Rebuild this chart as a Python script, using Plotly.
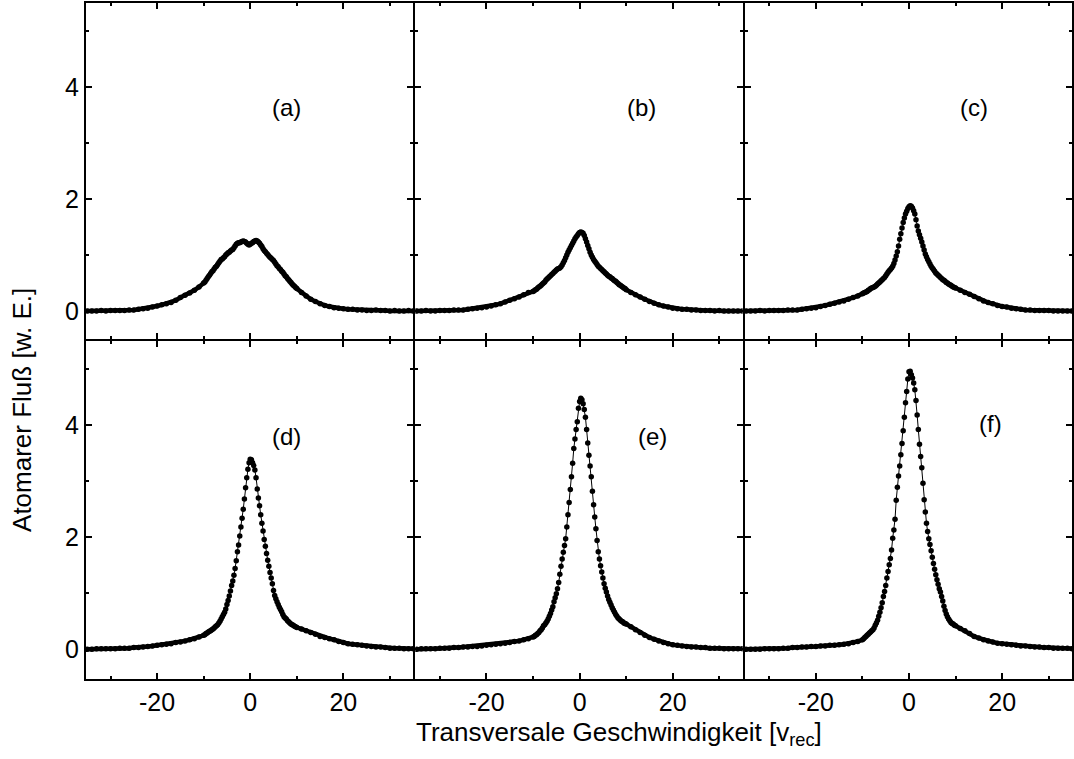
import plotly.graph_objects as go

# Transverse velocity grid [v_rec]: coarse in the wings, fine around the peak
VEL_WING_LEFT = [-35, -34, -33, -32, -31, -30, -29, -28, -27, -26, -25, -24, -23,
                 -22, -21, -20, -19, -18, -17, -16, -15, -14, -13, -12, -11]
VEL_CORE = [
    -10.0, -9.75, -9.5, -9.25, -9.0, -8.75, -8.5, -8.25,
    -8.0, -7.75, -7.5, -7.25, -7.0, -6.75, -6.5, -6.25,
    -6.0, -5.75, -5.5, -5.25, -5.0, -4.75, -4.5, -4.25,
    -4.0, -3.75, -3.5, -3.25, -3.0, -2.75, -2.5, -2.25,
    -2.0, -1.75, -1.5, -1.25, -1.0, -0.75, -0.5, -0.25,
    0.0, 0.25, 0.5, 0.75, 1.0, 1.25, 1.5, 1.75,
    2.0, 2.25, 2.5, 2.75, 3.0, 3.25, 3.5, 3.75,
    4.0, 4.25, 4.5, 4.75, 5.0, 5.25, 5.5, 5.75,
    6.0, 6.25, 6.5, 6.75, 7.0, 7.25, 7.5, 7.75,
    8.0, 8.25, 8.5, 8.75, 9.0, 9.25, 9.5, 9.75,
    10.0,
]
VEL_WING_RIGHT = [11, 12, 13, 14, 15, 16, 17, 18, 19, 20, 21, 22, 23,
                  24, 25, 26, 27, 28, 29, 30, 31, 32, 33, 34, 35]
VELOCITY = VEL_WING_LEFT + VEL_CORE + VEL_WING_RIGHT

# Atomic flux [arb. units] for the six measurements (a)-(f)
FLUX_A = [
    0.00, 0.00, 0.00, 0.01, 0.00, 0.01, 0.01, 0.01, 0.01, 0.02, 0.02, 0.03, 0.04,
    0.05, 0.07, 0.09, 0.11, 0.13, 0.15, 0.19, 0.24, 0.28, 0.32, 0.37, 0.43,
    0.50, 0.52, 0.55, 0.58, 0.61, 0.64, 0.67, 0.70,
    0.72, 0.75, 0.78, 0.80, 0.83, 0.86, 0.89, 0.92,
    0.93, 0.95, 0.97, 1.00, 1.02, 1.04, 1.05, 1.07,
    1.09, 1.10, 1.13, 1.16, 1.19, 1.21, 1.22, 1.22,
    1.23, 1.24, 1.25, 1.24, 1.23, 1.21, 1.19, 1.18,
    1.19, 1.21, 1.22, 1.24, 1.25, 1.26, 1.25, 1.23,
    1.21, 1.18, 1.15, 1.11, 1.08, 1.06, 1.03, 1.01,
    0.98, 0.96, 0.94, 0.92, 0.90, 0.87, 0.84, 0.81,
    0.79, 0.76, 0.74, 0.71, 0.69, 0.66, 0.63, 0.61,
    0.58, 0.56, 0.53, 0.51, 0.48, 0.46, 0.44, 0.42,
    0.40,
    0.33, 0.27, 0.21, 0.17, 0.13, 0.10, 0.08, 0.06, 0.05, 0.04, 0.03, 0.03, 0.02,
    0.02, 0.01, 0.01, 0.02, 0.01, 0.01, 0.00, 0.01, 0.00, 0.00, 0.01, 0.00,
]
FLUX_B = [
    0.00, 0.00, 0.01, 0.00, 0.00, 0.01, 0.01, 0.01, 0.02, 0.02, 0.02, 0.03, 0.04,
    0.05, 0.06, 0.07, 0.09, 0.11, 0.13, 0.16, 0.19, 0.22, 0.25, 0.29, 0.33,
    0.35, 0.36, 0.38, 0.39, 0.41, 0.43, 0.44, 0.46,
    0.48, 0.50, 0.52, 0.55, 0.57, 0.59, 0.61, 0.63,
    0.65, 0.67, 0.69, 0.71, 0.73, 0.75, 0.76, 0.77,
    0.79, 0.82, 0.86, 0.90, 0.95, 1.00, 1.05, 1.09,
    1.13, 1.17, 1.21, 1.25, 1.29, 1.32, 1.35, 1.38,
    1.40, 1.41, 1.40, 1.39, 1.35, 1.29, 1.23, 1.17,
    1.11, 1.05, 1.00, 0.96, 0.92, 0.89, 0.86, 0.83,
    0.80, 0.78, 0.76, 0.74, 0.72, 0.70, 0.68, 0.66,
    0.64, 0.62, 0.61, 0.59, 0.58, 0.56, 0.54, 0.53,
    0.51, 0.49, 0.47, 0.46, 0.44, 0.43, 0.41, 0.40,
    0.38,
    0.33, 0.29, 0.25, 0.21, 0.17, 0.14, 0.11, 0.09, 0.07, 0.05, 0.04, 0.03, 0.03,
    0.02, 0.02, 0.01, 0.01, 0.01, 0.00, 0.01, 0.00, 0.00, 0.00, 0.00, 0.00,
]
FLUX_C = [
    0.00, 0.00, 0.00, 0.01, 0.00, 0.01, 0.01, 0.01, 0.01, 0.02, 0.02, 0.02, 0.03,
    0.04, 0.05, 0.06, 0.08, 0.10, 0.12, 0.14, 0.16, 0.18, 0.21, 0.24, 0.27,
    0.31, 0.32, 0.33, 0.34, 0.35, 0.37, 0.38, 0.40,
    0.41, 0.42, 0.43, 0.44, 0.46, 0.48, 0.50, 0.52,
    0.54, 0.56, 0.58, 0.60, 0.63, 0.66, 0.69, 0.72,
    0.74, 0.77, 0.80, 0.85, 0.91, 0.98, 1.06, 1.16,
    1.28, 1.38, 1.48, 1.58, 1.66, 1.73, 1.78, 1.83,
    1.86, 1.88, 1.87, 1.84, 1.79, 1.73, 1.63, 1.52,
    1.43, 1.36, 1.30, 1.23, 1.16, 1.09, 1.02, 0.97,
    0.92, 0.88, 0.84, 0.80, 0.77, 0.74, 0.71, 0.68,
    0.66, 0.64, 0.62, 0.60, 0.58, 0.56, 0.55, 0.53,
    0.51, 0.50, 0.48, 0.47, 0.46, 0.44, 0.43, 0.42,
    0.41,
    0.37, 0.33, 0.30, 0.26, 0.22, 0.18, 0.15, 0.13, 0.10, 0.08, 0.07, 0.05, 0.04,
    0.03, 0.02, 0.02, 0.01, 0.01, 0.01, 0.01, 0.00, 0.00, 0.00, 0.00, 0.00,
]
FLUX_D = [
    0.00, 0.00, 0.01, 0.01, 0.01, 0.01, 0.01, 0.02, 0.02, 0.02, 0.03, 0.03, 0.04,
    0.05, 0.06, 0.07, 0.08, 0.09, 0.10, 0.12, 0.13, 0.15, 0.17, 0.19, 0.22,
    0.25, 0.26, 0.28, 0.29, 0.31, 0.32, 0.33, 0.35,
    0.36, 0.38, 0.40, 0.42, 0.44, 0.47, 0.50, 0.54,
    0.58, 0.62, 0.66, 0.72, 0.80, 0.87, 0.95, 1.04,
    1.14, 1.22, 1.32, 1.44, 1.58, 1.74, 1.86, 2.02,
    2.18, 2.34, 2.50, 2.68, 2.88, 3.06, 3.21, 3.33,
    3.39, 3.38, 3.33, 3.28, 3.20, 3.06, 2.86, 2.70,
    2.56, 2.40, 2.25, 2.11, 1.96, 1.84, 1.71, 1.59,
    1.48, 1.37, 1.27, 1.17, 1.05, 0.96, 0.90, 0.85,
    0.80, 0.75, 0.71, 0.67, 0.62, 0.58, 0.56, 0.54,
    0.51, 0.49, 0.47, 0.45, 0.44, 0.43, 0.41, 0.40,
    0.39,
    0.36, 0.33, 0.30, 0.27, 0.23, 0.21, 0.19, 0.17, 0.14, 0.12, 0.10, 0.09, 0.08,
    0.07, 0.06, 0.05, 0.04, 0.04, 0.03, 0.02, 0.02, 0.02, 0.01, 0.01, 0.01,
]
FLUX_E = [
    0.00, 0.01, 0.01, 0.01, 0.01, 0.02, 0.02, 0.02, 0.03, 0.03, 0.04, 0.04, 0.05,
    0.05, 0.06, 0.07, 0.08, 0.09, 0.10, 0.11, 0.12, 0.14, 0.15, 0.17, 0.19,
    0.22, 0.23, 0.25, 0.26, 0.28, 0.30, 0.33, 0.35,
    0.38, 0.42, 0.44, 0.47, 0.50, 0.54, 0.59, 0.64,
    0.70, 0.76, 0.85, 0.92, 0.99, 1.08, 1.19, 1.34,
    1.48, 1.61, 1.73, 1.85, 1.97, 2.18, 2.40, 2.62,
    2.85, 3.08, 3.32, 3.58, 3.75, 3.92, 4.06, 4.30,
    4.42, 4.48, 4.45, 4.38, 4.28, 4.14, 3.92, 3.68,
    3.46, 3.27, 3.08, 2.82, 2.58, 2.36, 2.15, 1.94,
    1.74, 1.61, 1.49, 1.38, 1.27, 1.17, 1.09, 1.02,
    0.95, 0.89, 0.84, 0.79, 0.74, 0.70, 0.66, 0.62,
    0.59, 0.56, 0.54, 0.52, 0.50, 0.49, 0.47, 0.46,
    0.45,
    0.40, 0.35, 0.30, 0.25, 0.21, 0.18, 0.15, 0.12, 0.10, 0.08, 0.07, 0.06, 0.05,
    0.04, 0.04, 0.03, 0.03, 0.02, 0.02, 0.02, 0.01, 0.01, 0.01, 0.01, 0.01,
]
FLUX_F = [
    0.00, 0.00, 0.00, 0.00, 0.01, 0.01, 0.01, 0.01, 0.02, 0.02, 0.03, 0.03, 0.04,
    0.04, 0.05, 0.05, 0.06, 0.06, 0.07, 0.07, 0.08, 0.09, 0.10, 0.12, 0.14,
    0.17, 0.19, 0.21, 0.23, 0.25, 0.27, 0.29, 0.31,
    0.33, 0.35, 0.38, 0.43, 0.47, 0.52, 0.59, 0.66,
    0.74, 0.83, 0.94, 1.03, 1.14, 1.27, 1.39, 1.51,
    1.62, 1.77, 1.98, 2.13, 2.32, 2.66, 2.89, 3.09,
    3.27, 3.47, 3.67, 3.90, 4.14, 4.40, 4.60, 4.82,
    4.95, 4.96, 4.90, 4.84, 4.75, 4.63, 4.44, 4.18,
    3.92, 3.66, 3.44, 3.24, 2.96, 2.67, 2.45, 2.25,
    2.10, 1.97, 1.87, 1.76, 1.64, 1.53, 1.43, 1.33,
    1.24, 1.16, 1.08, 1.02, 0.94, 0.86, 0.77, 0.69,
    0.63, 0.58, 0.54, 0.51, 0.48, 0.46, 0.45, 0.43,
    0.42,
    0.37, 0.33, 0.28, 0.23, 0.20, 0.17, 0.15, 0.13, 0.11, 0.10, 0.09, 0.08, 0.07,
    0.06, 0.06, 0.05, 0.04, 0.04, 0.03, 0.03, 0.02, 0.02, 0.02, 0.02, 0.01,
]

PANEL_NAMES = ["(a)", "(b)", "(c)", "(d)", "(e)", "(f)"]
PANEL_FLUX = [FLUX_A, FLUX_B, FLUX_C, FLUX_D, FLUX_E, FLUX_F]

X_TICKS = [-20, 0, 20]
X_TICK_TEXT = ["-20", "0", "20"]
Y_TICKS = [0, 2, 4]
Y_TICK_TEXT = ["0", "2", "4"]

X_TITLE = "Transversale Geschwindigkeit [v<sub>rec</sub>]"
Y_TITLE = "Atomarer Fluß [w. E.]"

for series in PANEL_FLUX:
    assert len(series) == len(VELOCITY)

FONT = "Liberation Sans, Arial, Helvetica, sans-serif"
W, H = 1074, 759
LINE_W = 2

# panel frames in pixels; neighbouring frames leave a gap equal to the frame
# line width so that shared borders are drawn on top of each other
col_px = [(86, 414), (416, 744), (746, 1074)]
row_px = [(3, 339), (341, 679)]          # measured from the top edge
y_ranges = [[-0.5, 5.5], [-0.53, 5.5]]

# where each panel letter sits, in that panel's data coordinates
label_anchor = [(7.7, 3.64), (13.2, 3.64), (14.0, 3.64),
                (7.7, 3.80), (15.7, 3.80), (17.4, 4.02)]

n_wing = len(VEL_WING_LEFT) + 1

fig = go.Figure()
layout = {}
for i, (name, flux) in enumerate(zip(PANEL_NAMES, PANEL_FLUX)):
    r, c = divmod(i, 3)
    sfx = "" if i == 0 else str(i + 1)
    xa, ya = "x" + sfx, "y" + sfx

    # dense wings: measured points merge into a solid band
    for xs, ys in ((VELOCITY[:n_wing], flux[:n_wing]),
                   (VELOCITY[-n_wing:], flux[-n_wing:])):
        fig.add_trace(go.Scatter(
            x=xs, y=ys, mode="lines", xaxis=xa, yaxis=ya,
            line=dict(color="black", width=4.5), showlegend=False, hoverinfo="skip",
        ))
    fig.add_trace(go.Scatter(
        x=VELOCITY, y=flux, mode="lines+markers", xaxis=xa, yaxis=ya,
        line=dict(color="black", width=1),
        marker=dict(color="black", size=5.5, line=dict(width=0)),
        showlegend=False, name=name,
    ))

    x0, x1 = col_px[c]
    t0, t1 = row_px[r]
    common = dict(
        ticks="inside", ticklen=6, tickwidth=1.5, tickcolor="black",
        showline=True, linewidth=LINE_W, linecolor="black", mirror="ticks",
        showgrid=False, zeroline=False,
        tickfont=dict(family=FONT, size=25, color="black"),
    )
    layout["xaxis" + sfx] = dict(
        common, domain=[x0 / W, x1 / W], anchor=ya, range=[-35.3, 35],
        tickmode="array", tickvals=X_TICKS, ticktext=X_TICK_TEXT,
        minor=dict(tickmode="array", tickvals=[-30, -10, 10, 30], ticks="inside",
                   ticklen=3, tickwidth=1.5, tickcolor="black", showgrid=False),
        showticklabels=(r == 1),
    )
    layout["yaxis" + sfx] = dict(
        common, domain=[1 - t1 / H, 1 - t0 / H], anchor=xa, range=y_ranges[r],
        tickmode="array", tickvals=Y_TICKS, ticktext=Y_TICK_TEXT,
        minor=dict(tickmode="array", tickvals=[1, 3, 5], ticks="inside",
                   ticklen=3, tickwidth=1.5, tickcolor="black", showgrid=False),
        showticklabels=(c == 0),
    )
    fig.add_annotation(
        x=label_anchor[i][0], y=label_anchor[i][1], xref=xa, yref=ya,
        text=name, showarrow=False, font=dict(family=FONT, size=24, color="black"),
    )

fig.add_annotation(
    x=620 / W, y=1 - 733 / H, xref="paper", yref="paper", text=X_TITLE,
    showarrow=False, xanchor="center", yanchor="middle",
    font=dict(family=FONT, size=26, color="black"),
)
fig.add_annotation(
    x=22 / W, y=1 - 410 / H, xref="paper", yref="paper", text=Y_TITLE,
    showarrow=False, textangle=-90, xanchor="center", yanchor="middle",
    font=dict(family=FONT, size=26, color="black"),
)

fig.update_layout(
    **layout,
    width=W, height=H,
    margin=dict(l=0, r=0, t=0, b=0),
    paper_bgcolor="white", plot_bgcolor="white",
    font=dict(family=FONT, color="black"),
)

fig.write_html("out.html")
